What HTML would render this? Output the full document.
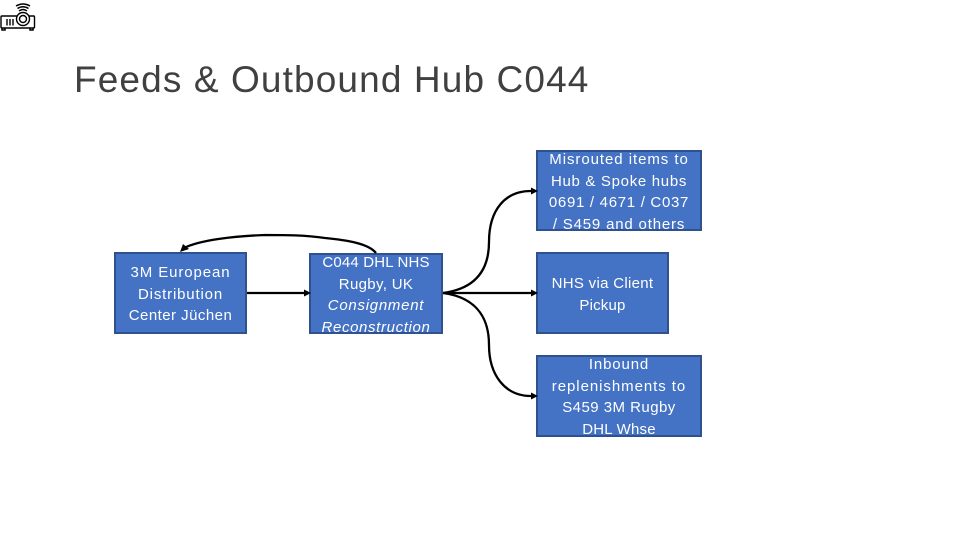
<!DOCTYPE html>
<html><head><meta charset="utf-8">
<style>
html,body{margin:0;padding:0;background:#fff}
#p{position:relative;width:960px;height:540px;overflow:hidden;background:#fff;font-family:"Liberation Sans",sans-serif}
.b{position:absolute;box-sizing:border-box;background:#4472c4;border:2px solid #2f528f}
.t{position:absolute;color:#fff;font-size:15px;line-height:21.7px;text-align:center;white-space:nowrap}
.t span{display:block}
h1{position:absolute;margin:0;left:74px;top:57px;font-weight:400;font-size:37px;line-height:46px;color:#404040;white-space:nowrap;letter-spacing:1.12px}
svg{position:absolute;left:0;top:0}
</style></head><body><div id="p">
<h1>Feeds &amp; Outbound Hub C044</h1>
<div class="b" style="left:114px;top:252px;width:133px;height:82px"></div>
<div class="b" style="left:309px;top:253px;width:134px;height:81px"></div>
<div class="b" style="left:536px;top:150px;width:166px;height:81px"></div>
<div class="b" style="left:536px;top:252px;width:133px;height:82px"></div>
<div class="b" style="left:536px;top:355px;width:166px;height:82px"></div>
<div class="t" style="left:114px;top:262px;width:133px"><span style="letter-spacing:.9px">3M European</span><span style="letter-spacing:.83px">Distribution</span><span style="letter-spacing:.46px">Center Jüchen</span></div>
<div class="t" style="left:309px;top:252px;width:134px"><span style="letter-spacing:.17px">C044 DHL NHS</span><span style="letter-spacing:.33px">Rugby, UK</span><span style="letter-spacing:.73px"><i>Consignment</i></span><span style="letter-spacing:.64px"><i>Reconstruction</i></span></div>
<div class="t" style="left:536px;top:149px;width:166px"><span style="letter-spacing:.94px">Misrouted items to</span><span style="letter-spacing:.69px">Hub &amp; Spoke hubs</span><span style="letter-spacing:.7px">0691 / 4671 / C037</span><span style="letter-spacing:.82px">/ S459 and others</span></div>
<div class="t" style="left:536px;top:273px;width:133px"><span style="letter-spacing:.3px">NHS via Client</span><span style="letter-spacing:.2px">Pickup</span></div>
<div class="t" style="left:536px;top:354px;width:166px"><span style="letter-spacing:.85px">Inbound</span><span style="letter-spacing:.94px">replenishments to</span><span style="letter-spacing:.46px">S459 3M Rugby</span><span style="letter-spacing:.2px">DHL Whse</span></div>
<svg width="960" height="540" fill="none" stroke="#000" stroke-width="2.300">
<path d="M376 253C368 243 345 240 325 238C305 235 285 235 265 235C235 236 200 240 184 248"/>
<path d="M180 252l3-8l6 5z" fill="#000" stroke="none"/>
<path d="M247 293H304"/>
<path d="M311 293l-7-3.500v7z" fill="#000" stroke="none"/>
<path d="M443 293H531"/>
<path d="M538 293l-7-3.500v7z" fill="#000" stroke="none"/>
<path d="M443 293C480 288 489 265 489 242C489 210 505 191 531 191"/>
<path d="M538 191l-7-3.500v7z" fill="#000" stroke="none"/>
<path d="M443 293C480 298 489 322 489 345C489 375 505 396 531 396"/>
<path d="M538 396l-7-3.500v7z" fill="#000" stroke="none"/>
<g stroke-width="1.400">
<rect x="1" y="16" width="33.500" height="12" rx="1"/>
<path d="M7 19v6.500M10 19v6.500M13 19v6.500"/>
<circle cx="23" cy="19" r="6.500" fill="#fff"/>
<circle cx="23" cy="19" r="3.500"/>
<path d="M2 28v2h3v-2M30 28v2h3v-2" stroke-width="1.500"/>
<path d="M19 11q4-3 8 0M17.500 8.500q5.500-3.500 11 0M16 6q7-4 14 0"/>
</g>
</svg>
</div></body></html>
